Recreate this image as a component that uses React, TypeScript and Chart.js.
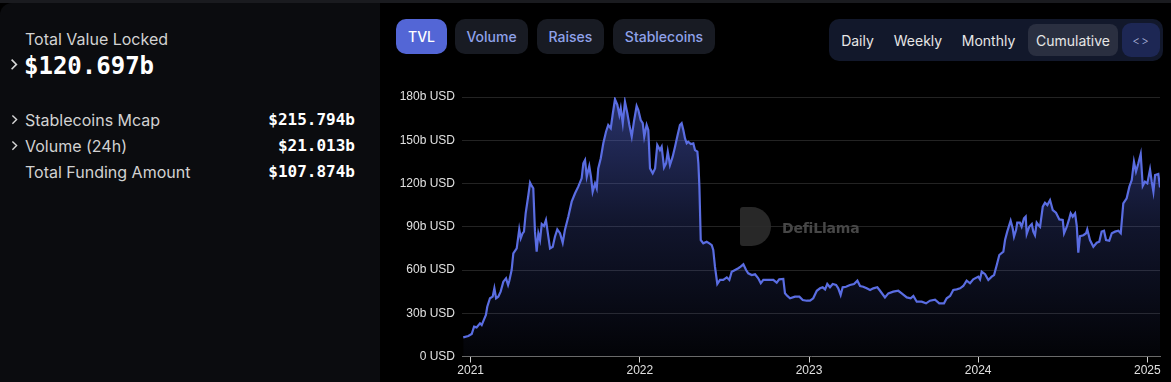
import React, { useEffect, useRef } from "react";
import { Chart, registerables } from "chart.js";

Chart.register(...registerables);

// Decimal-year positions of the sampled points
const years: number[] = [
  2020.956, 2020.986, 2021.006, 2021.02, 2021.035, 2021.055, 2021.065, 2021.079, 2021.09, 2021.098,
  2021.114, 2021.13, 2021.14, 2021.15, 2021.163, 2021.177, 2021.193, 2021.209, 2021.221, 2021.228,
  2021.242, 2021.252, 2021.272, 2021.287, 2021.296, 2021.307, 2021.315, 2021.325, 2021.341, 2021.351,
  2021.361, 2021.37, 2021.38, 2021.39, 2021.4, 2021.41, 2021.42, 2021.433, 2021.445, 2021.459,
  2021.469, 2021.485, 2021.498, 2021.512, 2021.528, 2021.544, 2021.557, 2021.577, 2021.597, 2021.617,
  2021.636, 2021.656, 2021.666, 2021.676, 2021.686, 2021.701, 2021.711, 2021.721, 2021.735, 2021.745,
  2021.754, 2021.769, 2021.784, 2021.8, 2021.813, 2021.828, 2021.839, 2021.853, 2021.867, 2021.879,
  2021.887, 2021.899, 2021.912, 2021.926, 2021.938, 2021.952, 2021.965, 2021.981, 2021.991, 2022.005,
  2022.017, 2022.026, 2022.04, 2022.05, 2022.06, 2022.076, 2022.09, 2022.103, 2022.119, 2022.129,
  2022.143, 2022.155, 2022.165, 2022.178, 2022.194, 2022.208, 2022.221, 2022.237, 2022.247, 2022.257,
  2022.267, 2022.277, 2022.286, 2022.301, 2022.316, 2022.326, 2022.34, 2022.346, 2022.352, 2022.36,
  2022.375, 2022.395, 2022.411, 2022.425, 2022.434, 2022.444, 2022.458, 2022.474, 2022.493, 2022.514,
  2022.529, 2022.543, 2022.563, 2022.582, 2022.596, 2022.612, 2022.628, 2022.641, 2022.661, 2022.681,
  2022.7, 2022.715, 2022.73, 2022.759, 2022.789, 2022.809, 2022.824, 2022.848, 2022.858, 2022.872,
  2022.888, 2022.917, 2022.943, 2022.963, 2022.986, 2023.006, 2023.025, 2023.046, 2023.065, 2023.081,
  2023.095, 2023.108, 2023.124, 2023.14, 2023.16, 2023.173, 2023.187, 2023.199, 2023.219, 2023.242,
  2023.266, 2023.286, 2023.302, 2023.321, 2023.341, 2023.361, 2023.38, 2023.404, 2023.42, 2023.449,
  2023.469, 2023.498, 2023.528, 2023.548, 2023.578, 2023.601, 2023.617, 2023.637, 2023.666, 2023.692,
  2023.715, 2023.745, 2023.77, 2023.798, 2023.814, 2023.834, 2023.853, 2023.873, 2023.893, 2023.912,
  2023.932, 2023.952, 2023.971, 2024.001, 2024.011, 2024.021, 2024.041, 2024.06, 2024.08, 2024.094,
  2024.11, 2024.125, 2024.149, 2024.159, 2024.172, 2024.192, 2024.204, 2024.212, 2024.224, 2024.231,
  2024.247, 2024.257, 2024.271, 2024.281, 2024.287, 2024.302, 2024.317, 2024.326, 2024.336, 2024.346,
  2024.356, 2024.366, 2024.382, 2024.395, 2024.409, 2024.425, 2024.441, 2024.46, 2024.48, 2024.5,
  2024.508, 2024.524, 2024.539, 2024.547, 2024.559, 2024.573, 2024.583, 2024.592, 2024.602, 2024.622,
  2024.638, 2024.645, 2024.661, 2024.681, 2024.701, 2024.716, 2024.73, 2024.744, 2024.756, 2024.775,
  2024.79, 2024.809, 2024.829, 2024.843, 2024.858, 2024.878, 2024.894, 2024.908, 2024.921, 2024.933,
  2024.947, 2024.961, 2024.973, 2024.986, 2025.0, 2025.016, 2025.026, 2025.036, 2025.046, 2025.065,
  2025.075,
];

// Total value locked, billions USD
const tvl: number[] = [
  13.3, 14.2, 15.6, 20.7, 20.2, 23, 21.8, 25.8, 28.8, 34.5,
  40.4, 41.5, 47.3, 40.4, 41.5, 45, 51.9, 54.2, 49.6, 52.4,
  60, 71.6, 75, 88.2, 82, 85.5, 86.6, 99.3, 112, 120.6,
  118.3, 116.7, 86.6, 72.7, 85.5, 80.8, 91.9, 90.5, 94.7, 83.1,
  75, 76.1, 83.1, 88.2, 85.5, 78.9, 87.7, 97, 107.4, 113.2,
  117.8, 123.6, 134, 136.3, 124.7, 132.1, 124.7, 114.3, 120.1, 116.7,
  130.5, 137.5, 147.9, 155.9, 160.6, 158.3, 167.5, 178.4, 174.5, 167.5,
  172.2, 161.8, 176.7, 168.7, 160.6, 152.5, 162.9, 173.8, 171, 164,
  161.8, 152.5, 160.6, 157.1, 130.5, 127.1, 130.5, 146.7, 143.2, 145.5,
  131.2, 134, 142.1, 132.8, 138.6, 145.5, 152.5, 160.6, 161.8, 157.1,
  151.3, 147.9, 149, 147.4, 147.9, 143.2, 142.1, 134, 117.8, 80.8,
  78.5, 79.6, 78.5, 77.3, 73.9, 62.3, 50.3, 53.1, 53.1, 54.9,
  53.1, 58.8, 60, 61.2, 62.3, 63.9, 60, 57.7, 56.5, 57,
  54.2, 50.8, 53.1, 53.1, 53.1, 51.2, 53.5, 53.8, 43.8, 42,
  40.4, 41.5, 41.5, 39.2, 38.7, 38.7, 40.4, 45.6, 47.3, 48,
  46.6, 50.3, 48, 50.3, 49.6, 47.3, 42.7, 48, 48.4, 49.6,
  50.3, 52.6, 48.9, 48.4, 47.3, 46.1, 47.3, 48, 45.6, 41,
  43.8, 45, 45.6, 43.8, 41, 40.4, 42, 38, 38, 36.9,
  38.7, 39.4, 36.9, 36.9, 40.4, 42, 46.1, 46.6, 47.3, 48.9,
  52.6, 50.8, 53.5, 55.4, 53.5, 58.8, 57.1, 53.1, 55.4, 56.5,
  63.5, 70.4, 72.7, 80.8, 86.6, 94.2, 88.9, 83.1, 87.7, 92.8,
  92.8, 90, 95.8, 97, 85, 90, 91.9, 86.6, 84.1, 92.8,
  91.2, 90, 103.9, 106.6, 105, 108.5, 101.6, 99.7, 95.1, 94.7,
  85.5, 90, 95.8, 99.3, 97, 99.3, 90.5, 72, 83.5, 84.1,
  85.5, 88.2, 80.8, 76.1, 78.9, 79.6, 86.6, 87.2, 80.8, 80.3,
  85.5, 86.6, 87.2, 85.5, 106.2, 109.7, 117.8, 122.4, 135.1, 128.2,
  134, 140.4, 118.3, 121.3, 120.1, 129.8, 121.3, 114.3, 125.9, 126.6,
  117.3,
];

const yearTicks: number[] = [2021, 2022, 2023, 2024, 2025];
const yTicks: number[] = [0, 30, 60, 90, 120, 150, 180];
const X_MIN = 2020.9486;
const X_MAX = 2025.075;

const statRows = [
  { label: "Stablecoins Mcap", value: "$215.794b", chevron: true },
  { label: "Volume (24h)", value: "$21.013b", chevron: true },
  { label: "Total Funding Amount", value: "$107.874b", chevron: false },
];
const tabs = ["TVL", "Volume", "Raises", "Stablecoins"];
const periods = ["Daily", "Weekly", "Monthly", "Cumulative"];

const UI = "Inter, 'Noto Sans', sans-serif";
const MONO = "'DejaVu Sans Mono', monospace";

function Chevron({ x, y, size }: { x: number; y: number; size: number }) {
  return (
    <svg
      style={{ position: "absolute", left: x, top: y }}
      width={size}
      height={size * 1.6}
      viewBox="0 0 10 16"
    >
      <polyline points="2,2 8,8 2,14" fill="none" stroke="#d8d8d8" strokeWidth={2} />
    </svg>
  );
}

export default function App() {
  const canvasRef = useRef<HTMLCanvasElement | null>(null);

  useEffect(() => {
    document.body.style.margin = "0";
    const canvas = canvasRef.current;
    if (!canvas) return;
    const points = years.map((x, i) => ({ x, y: tvl[i] }));
    const chart = new Chart(canvas, {
      type: "line",
      data: {
        datasets: [
          {
            data: points,
            borderColor: "#5a6de2",
            borderWidth: 2.2,
            pointRadius: 0,
            tension: 0,
            fill: "origin",
            backgroundColor: (ctx: any) => {
              const ch = ctx.chart;
              const area = ch.chartArea;
              if (!area) return "rgba(84,104,220,0.2)";
              const g = ch.ctx.createLinearGradient(0, area.top, 0, area.bottom);
              g.addColorStop(0, "rgba(84,104,220,0.48)");
              g.addColorStop(0.5, "rgba(84,104,220,0.2)");
              g.addColorStop(1, "rgba(84,104,220,0.03)");
              return g;
            },
          },
        ],
      },
      options: {
        responsive: false,
        animation: false,
        layout: { padding: { top: 17, right: 11, left: 0, bottom: 0 } },
        plugins: { legend: { display: false }, tooltip: { enabled: false } },
        scales: {
          x: {
            type: "linear",
            min: X_MIN,
            max: X_MAX,
            afterBuildTicks: (s: any) => {
              s.ticks = yearTicks.map((v) => ({ value: v }));
            },
            afterFit: (s: any) => {
              s.height = 25.5;
            },
            ticks: {
              callback: (v: any) => String(v),
              color: "#e0e0e0",
              font: { size: 12, family: "'Liberation Sans', Arial, sans-serif" },
              padding: 1,
              maxRotation: 0,
              autoSkip: false,
            },
            grid: {
              drawOnChartArea: false,
              drawTicks: true,
              tickLength: 6,
              tickColor: "#d0d0d0",
              color: "#d0d0d0",
            },
            border: { color: "#6a6a6a", width: 1 },
          },
          y: {
            min: 0,
            max: 180,
            afterBuildTicks: (s: any) => {
              s.ticks = yTicks.map((v) => ({ value: v }));
            },
            afterFit: (s: any) => {
              s.width = 82;
            },
            ticks: {
              callback: (v: any) => (v === 0 ? "0 USD" : `${v}b USD`),
              color: "#e0e0e0",
              font: { size: 12, family: "'Liberation Sans', Arial, sans-serif" },
              padding: 7,
            },
            grid: {
              drawTicks: false,
              color: (c: any) => (c.tick && c.tick.value === 0 ? "rgba(0,0,0,0)" : "#232323"),
              lineWidth: 1,
            },
            border: { display: false },
          },
        },
      },
    } as any);
    return () => chart.destroy();
  }, []);

  return (
    <div
      style={{
        position: "fixed",
        left: 0,
        top: 0,
        width: 1171,
        height: 382,
        background: "#000",
        overflow: "hidden",
        fontFamily: UI,
      }}
    >
      {/* top strip */}
      <div style={{ position: "absolute", left: 0, top: 0, width: 1171, height: 3, background: "#1a1b1f" }} />
      {/* left panel */}
      <div
        style={{
          position: "absolute",
          left: 0,
          top: 3,
          width: 380,
          height: 379,
          background: "#0b0c0f",
          borderTopLeftRadius: 12,
        }}
      />
      <div style={{ position: "absolute", left: 25, top: 29, fontSize: 16, lineHeight: "20px", color: "#d2d2d2" }}>
        Total Value Locked
      </div>
      <Chevron x={10} y={58} size={8} />
      <div
        style={{
          position: "absolute",
          left: 24,
          top: 51,
          fontSize: 24,
          lineHeight: "30px",
          fontFamily: MONO,
          fontWeight: 700,
          color: "#ffffff",
        }}
      >
        $120.697b
      </div>
      {statRows.map((r, i) => (
        <React.Fragment key={r.label}>
          {r.chevron && <Chevron x={11} y={114 + i * 26} size={7} />}
          <div
            style={{
              position: "absolute",
              left: 25,
              top: 110 + i * 26,
              fontSize: 16,
              lineHeight: "20px",
              color: "#d2d2d2",
            }}
          >
            {r.label}
          </div>
          <div
            style={{
              position: "absolute",
              right: 1171 - 355,
              top: 110 + i * 26,
              fontSize: 16,
              lineHeight: "20px",
              fontFamily: MONO,
              fontWeight: 700,
              color: "#ffffff",
            }}
          >
            {r.value}
          </div>
        </React.Fragment>
      ))}

      {/* tabs */}
      {tabs.map((t, i) => {
        const lefts = [396, 455, 537, 613];
        const widths = [51, 73, 67, 102];
        const active = i === 0;
        return (
          <div
            key={t}
            style={{
              position: "absolute",
              left: lefts[i],
              top: 19,
              width: widths[i],
              height: 35,
              borderRadius: 10,
              background: active ? "#5366d6" : "#181b23",
              color: active ? "#ffffff" : "#8fa2ea",
              fontSize: 14,
              fontWeight: 500,
              display: "flex",
              alignItems: "center",
              justifyContent: "center",
            }}
          >
            {t}
          </div>
        );
      })}

      {/* period group */}
      <div
        style={{
          position: "absolute",
          left: 829,
          top: 19,
          width: 334,
          height: 42,
          borderRadius: 10,
          background: "#12182b",
        }}
      />
      {periods.map((p, i) => {
        const lefts = [835, 887, 955, 1028];
        const widths = [45, 62, 67, 90];
        const active = p === "Cumulative";
        return (
          <div
            key={p}
            style={{
              position: "absolute",
              left: lefts[i],
              top: 24,
              width: widths[i],
              height: 32,
              borderRadius: 8,
              background: active ? "#2a2f40" : "transparent",
              color: "#e6e6e6",
              fontSize: 14,
              display: "flex",
              alignItems: "center",
              justifyContent: "center",
            }}
          >
            {p}
          </div>
        );
      })}
      <div
        style={{
          position: "absolute",
          left: 1122,
          top: 23,
          width: 38,
          height: 34,
          borderRadius: 9,
          background: "#1d2754",
          color: "#a9b1d8",
          fontSize: 12,
          fontWeight: 300,
          display: "flex",
          alignItems: "center",
          justifyContent: "center",
          letterSpacing: 1,
        }}
      >
        {"<>"}
      </div>

      {/* chart */}
      <canvas
        ref={canvasRef}
        width={791}
        height={302}
        style={{ position: "absolute", left: 380, top: 80, width: 791, height: 302 }}
      />

      {/* watermark */}
      <div
        style={{
          position: "absolute",
          left: 740,
          top: 207,
          width: 31,
          height: 39,
          borderRadius: "3px 20px 20px 3px",
          background: "#2c2c2c",
          opacity: 0.9,
        }}
      />
      <div
        style={{
          position: "absolute",
          left: 782,
          top: 218,
          fontSize: 14,
          lineHeight: "20px",
          fontWeight: 700,
          color: "#474747",
          fontFamily: "'DejaVu Sans', sans-serif",
          letterSpacing: -0.2,
        }}
      >
        DefiLlama
      </div>
    </div>
  );
}
